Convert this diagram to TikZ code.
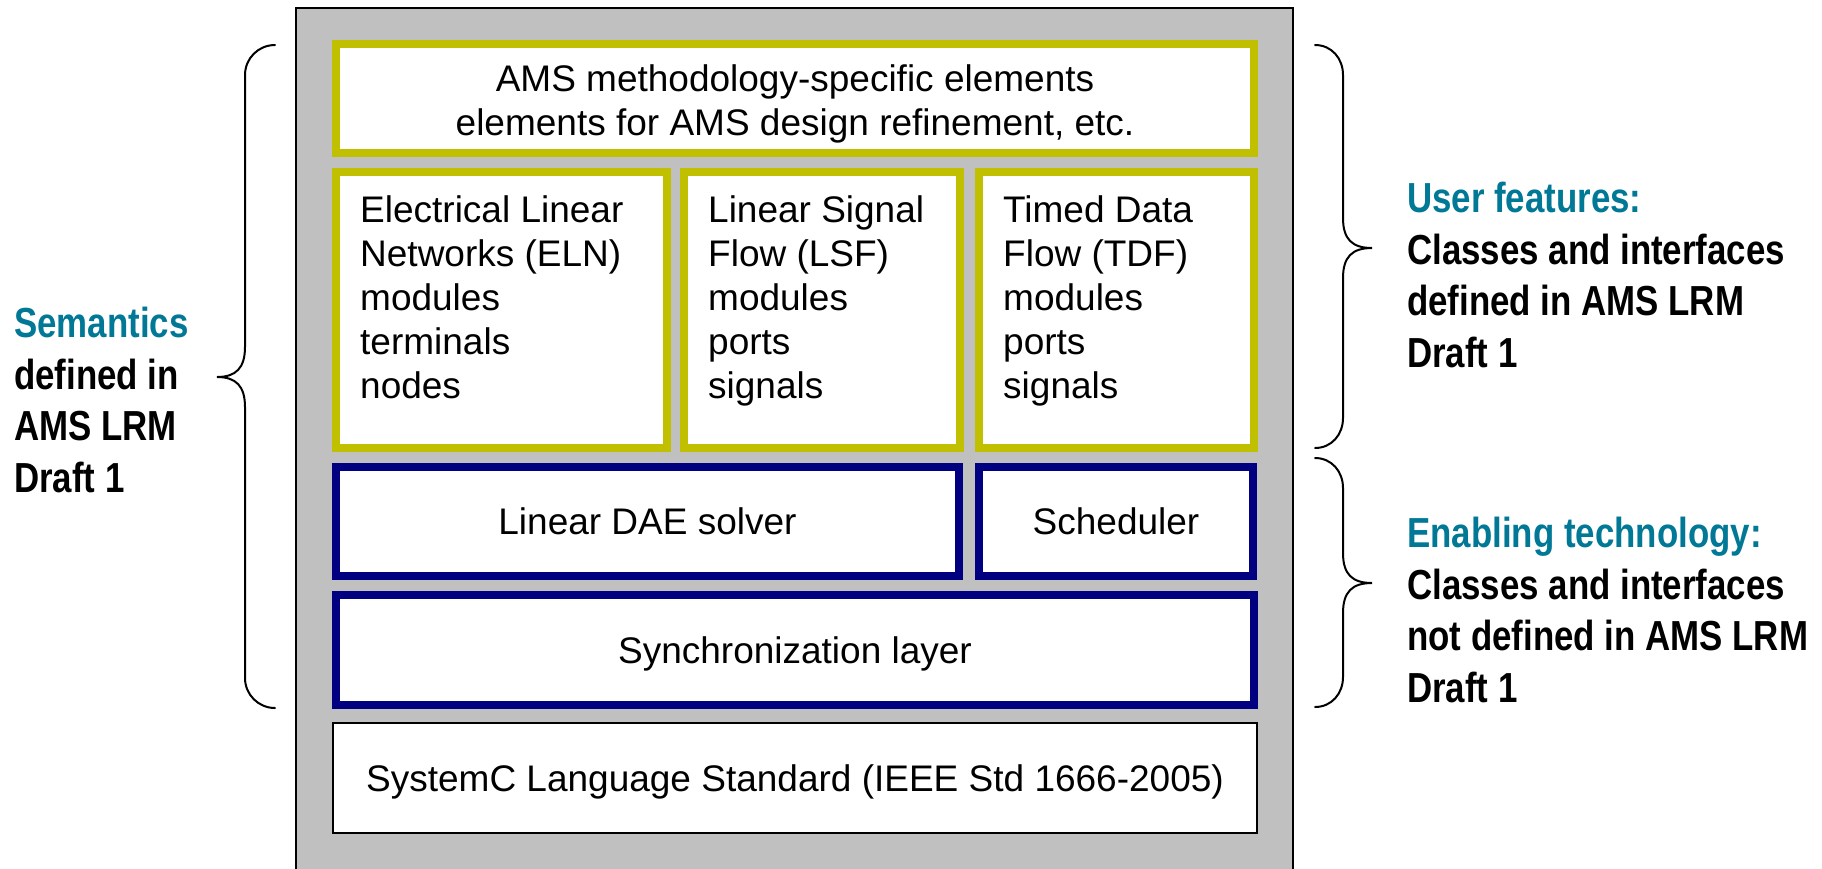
\documentclass[tikz,border=0pt]{standalone}
\usepackage{fontspec}
\setmainfont{Liberation Sans}
\newfontfamily\nbf[FakeStretch=0.83]{Liberation Sans Bold}
\definecolor{olivebd}{RGB}{192,192,0}
\definecolor{navybd}{RGB}{0,0,128}
\definecolor{graybg}{RGB}{192,192,192}
\definecolor{tealc}{RGB}{0,120,150}
\begin{document}
\begin{tikzpicture}[x=1pt,y=-1pt,
  layer/.style={draw, fill=white, inner sep=0pt, outer sep=0pt, line width=8pt},
  userbox/.style={layer, draw=olivebd},
  techbox/.style={layer, draw=navybd},
  basebox/.style={draw=black, fill=white, line width=2pt, inner sep=0pt, outer sep=0pt},
  ctext/.style={font=\fontsize{37}{44}\selectfont, text height=26.7pt, text depth=0pt},
  ltext/.style={font=\fontsize{37}{44}\selectfont, align=left, anchor=base west, inner sep=0pt},
  side/.style={font=\nbf\fontsize{42}{51.5}\selectfont, align=left, anchor=base west, inner sep=0pt},
  brace/.style={draw=black, line width=2pt, line cap=round}]
\useasboundingbox (0,0) rectangle (1822,868);

% gray background panel
\draw[fill=graybg, draw=black, line width=2.5pt] (296,8) rectangle (1293,885);

% layers (text anchors are at the baseline of the last line)
\node[userbox, minimum width=918pt, minimum height=109pt] (ams) at (795,98.5) {};
\node[font=\fontsize{37}{44}\selectfont, align=center, anchor=base, inner sep=0pt] (amst) at (795,135)
  {AMS methodology-specific elements\\elements for AMS design refinement, etc.};

\node[userbox, minimum width=331pt, minimum height=276pt] (eln) at (501.5,310) {};
\node[userbox, minimum width=276pt, minimum height=276pt] (lsf) at (822,310) {};
\node[userbox, minimum width=275pt, minimum height=276pt] (tdf) at (1116.5,310) {};
\node[ltext] (elnt) at (360,398) {Electrical Linear\\Networks (ELN)\\modules\\terminals\\nodes};
\node[ltext] (lsft) at (708,398) {Linear Signal\\Flow (LSF)\\modules\\ports\\signals};
\node[ltext] (tdft) at (1003,398) {Timed Data\\Flow (TDF)\\modules\\ports\\signals};

\node[techbox, ctext, minimum width=623pt, minimum height=109pt] (dae) at (647.5,521.5) {Linear DAE solver};
\node[techbox, ctext, minimum width=274pt, minimum height=109pt] (sched) at (1116,521.5) {Scheduler};
\node[techbox, ctext, minimum width=918pt, minimum height=110pt] (sync) at (795,650) {Synchronization layer};
\node[basebox, ctext, minimum width=924pt, minimum height=110pt] (sysc) at (795,778) {SystemC Language Standard (IEEE Std 1666-2005)};

% braces
\draw[brace] (275,45) .. controls (258.4,45) and (245,58.4) .. (245,75)
  -- (245,347) .. controls (245,368) and (236,377) .. (217,377)
  .. controls (236,377) and (245,386) .. (245,407)
  -- (245,678) .. controls (245,694.6) and (258.4,708) .. (275,708);
\draw[brace] (1315,45) .. controls (1331.6,45) and (1343,58.4) .. (1343,75)
  -- (1343,218) .. controls (1343,239) and (1352,248) .. (1372,248)
  .. controls (1352,248) and (1343,257) .. (1343,278)
  -- (1343,418) .. controls (1343,434.6) and (1331.6,448) .. (1315,448);
\draw[brace] (1315,458) .. controls (1331.6,458) and (1343,471.4) .. (1343,488)
  -- (1343,553) .. controls (1343,574) and (1352,583) .. (1372,583)
  .. controls (1352,583) and (1343,592) .. (1343,613)
  -- (1343,677) .. controls (1343,693.6) and (1331.6,707) .. (1315,707);

% side texts
\node[side] (sem) at (14,492) {\textcolor{tealc}{Semantics}\\defined in\\AMS LRM\\Draft 1};
\node[side] (usr) at (1407,367) {\textcolor{tealc}{User features:}\\Classes and interfaces\\defined in AMS LRM\\Draft 1};
\node[side] (ena) at (1407,702) {\textcolor{tealc}{Enabling technology:}\\Classes and interfaces\\not defined in AMS LRM\\Draft 1};
\end{tikzpicture}
\end{document}
